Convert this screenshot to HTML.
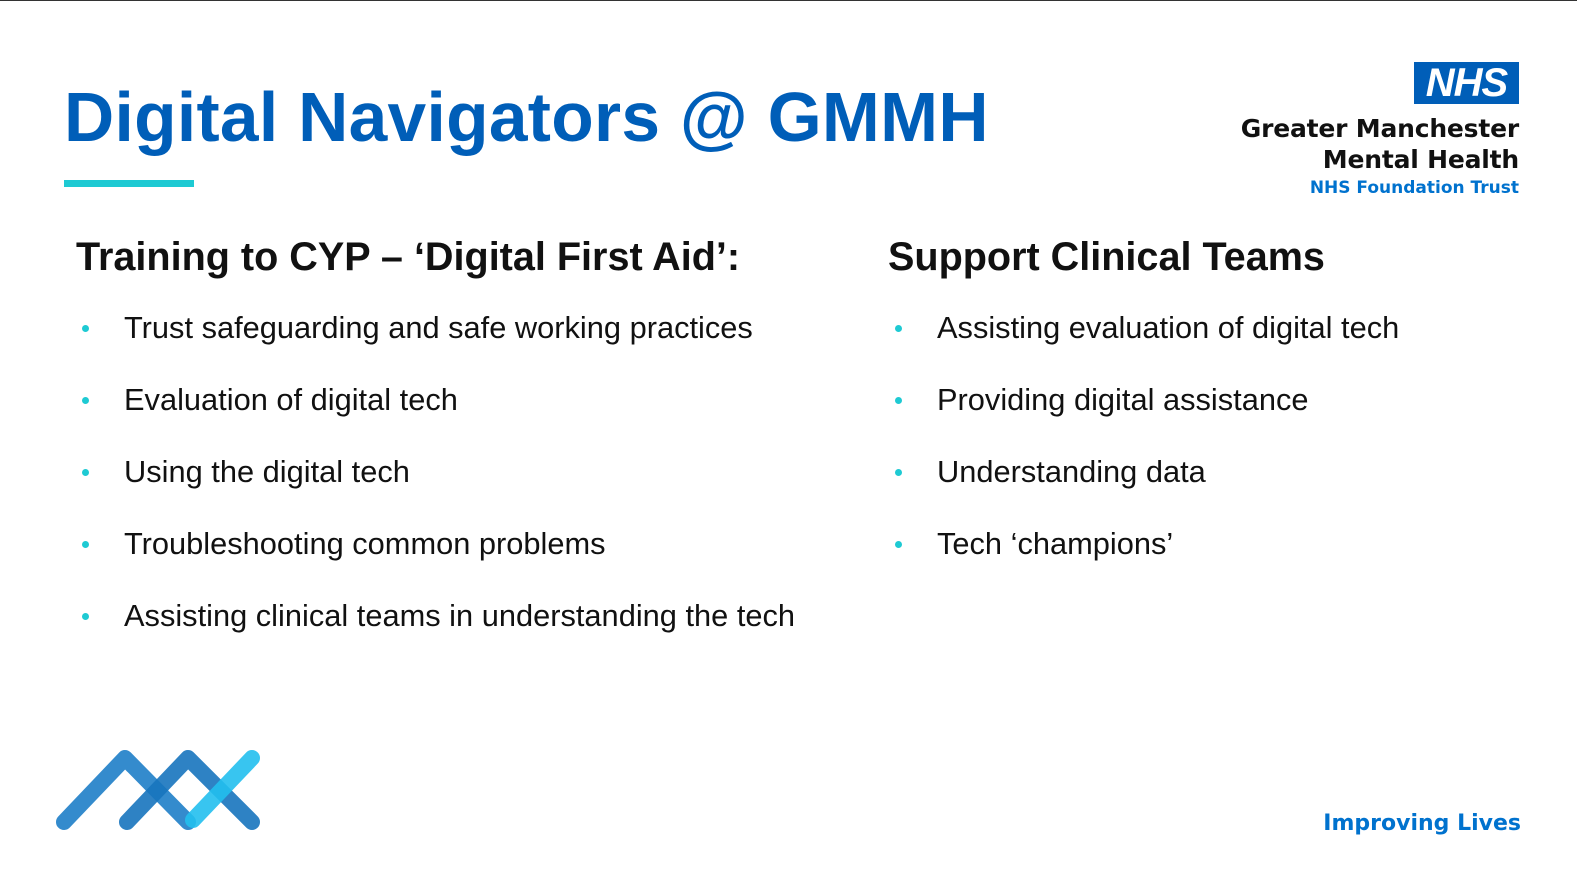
<!DOCTYPE html>
<html><head><meta charset="utf-8"><style>
body{margin:0;width:1577px;height:887px;background:#fff;position:relative;overflow:hidden;font-family:"Liberation Sans",Arial,sans-serif}
.a{position:absolute;white-space:nowrap}
.t{font-size:69.5px;font-weight:bold;color:#005EB8;left:64px;top:77px;letter-spacing:0.3px}
.h{font-size:39.6px;font-weight:bold;color:#111;top:235px}
.li{font-size:30.8px;color:#111}
.b{position:absolute;width:7px;height:7px;border-radius:50%;background:#1ECAD3}
.nhs{font-family:"DejaVu Sans",sans-serif;font-weight:bold;right:58px;text-align:right}
</style></head><body>
<div class="a" style="left:0;top:0;width:1577px;height:1px;background:#333"></div>
<div class="a t">Digital Navigators @ GMMH</div>
<div class="a" style="left:64px;top:180px;width:130px;height:7px;background:#1ECAD3"></div>

<div class="a" style="left:1414px;top:62px;width:105px;height:42px;overflow:hidden;background:#005EB8;color:#fff;font-weight:bold;font-style:italic;font-size:40px;line-height:42px;text-align:center;letter-spacing:-1px">NHS</div>
<div class="a nhs" style="top:114px;font-size:25px;letter-spacing:-0.2px;color:#111">Greater Manchester</div>
<div class="a nhs" style="top:145px;font-size:25px;letter-spacing:-0.2px;color:#111">Mental Health</div>
<div class="a nhs" style="top:178px;font-size:17px;color:#0072CE">NHS Foundation Trust</div>

<div class="a h" style="left:76px">Training to CYP – ‘Digital First Aid’:</div>
<div class="a h" style="left:888px">Support Clinical Teams</div>

<div>
<div class="b" style="left:82px;top:325px"></div><div class="a li" style="left:124px;top:310px">Trust safeguarding and safe working practices</div>
<div class="b" style="left:82px;top:397px"></div><div class="a li" style="left:124px;top:382px">Evaluation of digital tech</div>
<div class="b" style="left:82px;top:469px"></div><div class="a li" style="left:124px;top:454px">Using the digital tech</div>
<div class="b" style="left:82px;top:541px"></div><div class="a li" style="left:124px;top:526px">Troubleshooting common problems</div>
<div class="b" style="left:82px;top:613px"></div><div class="a li" style="left:124px;top:598px">Assisting clinical teams in understanding the tech</div>
</div>
<div>
<div class="b" style="left:895px;top:325px"></div><div class="a li" style="left:937px;top:310px">Assisting evaluation of digital tech</div>
<div class="b" style="left:895px;top:397px"></div><div class="a li" style="left:937px;top:382px">Providing digital assistance</div>
<div class="b" style="left:895px;top:469px"></div><div class="a li" style="left:937px;top:454px">Understanding data</div>
<div class="b" style="left:895px;top:541px"></div><div class="a li" style="left:937px;top:526px">Tech ‘champions’</div>
</div>

<svg class="a" style="left:0;top:700px" width="300" height="150">
<g stroke-linecap="round" stroke-width="16" fill="none" stroke-linejoin="round">
<polyline points="64,122 125,58 188,122" stroke="#1E7EC8" stroke-opacity="0.9"/>
<polyline points="127,122 188,58 252,122" stroke="#1774BE" stroke-opacity="0.9"/>
<line x1="193" y1="120" x2="252" y2="58" stroke="#22BFEE" stroke-opacity="0.9"/>
</g></svg>
<div class="a" style="right:56px;top:811px;font-family:'DejaVu Sans',sans-serif;font-weight:bold;font-size:22px;color:#0072CE">Improving Lives</div>
</body></html>
